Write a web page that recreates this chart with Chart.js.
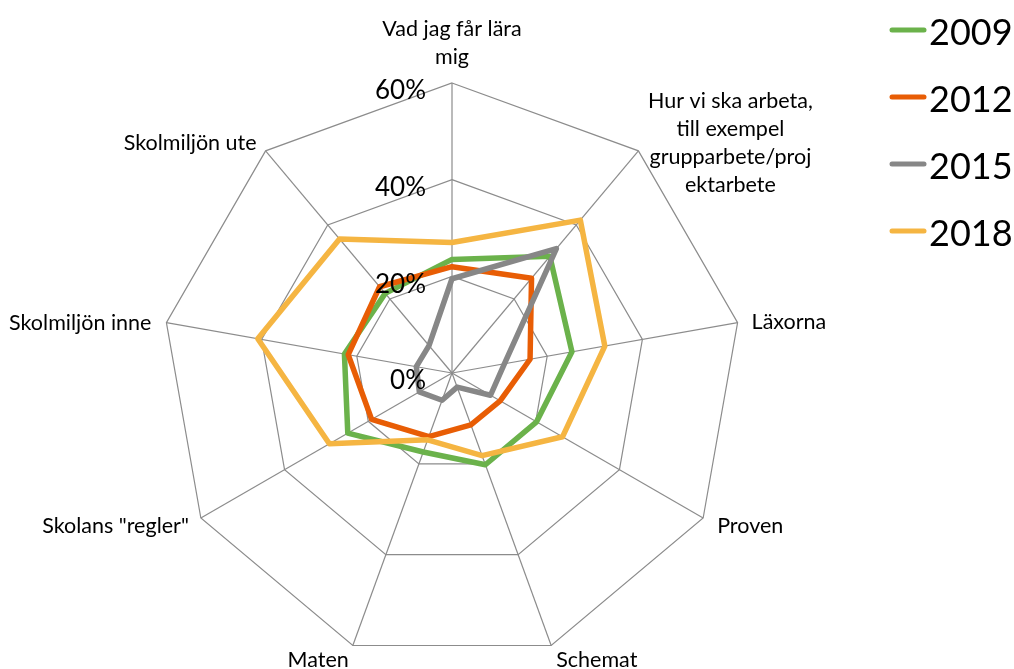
<!DOCTYPE html>
<html lang="sv">
<head>
<meta charset="utf-8">
<title>Trivsel i skolan</title>
<script src="https://cdn.jsdelivr.net/npm/chart.js@4.4.1/dist/chart.umd.min.js"></script>
<style>
    html, body { margin: 0; padding: 0; background: #ffffff; }
    #wrap { position: relative; width: 1014px; height: 669px; }
</style>
</head>
<body>
<div id="wrap"><canvas id="radarChart"></canvas></div>
<script>
// --------------------
// Data
// --------------------
const categories = [
    ["Vad jag får lära", "mig"],
    ["Hur vi ska arbeta,", "till exempel", "grupparbete/proj", "ektarbete"],
    "Läxorna",
    "Proven",
    "Schemat",
    "Maten",
    "Skolans \"regler\"",
    "Skolmiljön inne",
    "Skolmiljön ute"
];

const years = ["2009", "2012", "2015", "2018"];

const values2009 = [23.5, 31.5, 25.2, 20.2, 20.2, 17.4, 24.9, 22.6, 21.5];
const values2012 = [22.0, 25.6, 16.4, 11.5, 11.4, 14.0, 19.2, 21.8, 23.3];
const values2015 = [19.5, 33.6, 11.0, 9.2, 3.1, 6.0, 7.8, 7.5, 7.4];
const values2018 = [27.0, 41.3, 32.1, 26.4, 18.2, 14.7, 29.3, 40.8, 36.2];

const tickValues = [0, 20, 40, 60];
const tickLabels = ["0%", "20%", "40%", "60%"];

const seriesColors = ["#6bb24b", "#e85d05", "#878787", "#f5b542"];
const FONT = "Lato, 'Open Sans', sans-serif";

// --------------------
// Tick labels (left of the vertical axis)
// --------------------
const tickLabelPlugin = {
    id: "tickLabels",
    afterDatasetsDraw(chart) {
        const scale = chart.scales.r;
        const ctx = chart.ctx;
        ctx.save();
        ctx.font = "26px " + FONT;
        ctx.fillStyle = "#000000";
        ctx.textAlign = "right";
        ctx.textBaseline = "middle";
        tickValues.forEach((v, i) => {
            const p = scale.getPointPositionForValue(0, v);
            ctx.fillText(tickLabels[i], p.x - 26, p.y + 8);
        });
        ctx.restore();
    }
};

// --------------------
// Category labels round the web
// --------------------
const pointLabelPlugin = {
    id: "pointLabelsCustom",
    afterDraw(chart) {
        const scale = chart.scales.r;
        const ctx = chart.ctx;
        const lineH = 28;
        // align, dx, dy (dy = baseline of first line from vertex)
        const place = [
            ["center", 0, 0],
            ["center", 92, -43],
            ["left", 14, 6],
            ["left", 14, 15],
            ["left", 5, 21],
            ["right", -4, 21],
            ["right", -12, 15],
            ["right", -15, 7],
            ["right", -9, -1]
        ];
        ctx.save();
        ctx.font = "21.5px " + FONT;
        ctx.fillStyle = "#000000";
        ctx.textBaseline = "alphabetic";
        categories.forEach((label, i) => {
            const p = scale.getPointPosition(i, scale.drawingArea);
            const lines = Array.isArray(label) ? label : [label];
            const [align, dx, dy] = place[i];
            ctx.textAlign = align;
            let y = p.y + dy;
            if (i === 0) y = p.y - 19 - (lines.length - 1) * lineH;
            lines.forEach((line, k) => {
                ctx.fillText(line, p.x + dx, y + k * lineH);
            });
        });
        ctx.restore();
    }
};

// --------------------
// Legend (top right)
// --------------------
const legendPlugin = {
    id: "sideLegend",
    afterDraw(chart) {
        const ctx = chart.ctx;
        const x0 = chart.width - 122;
        ctx.save();
        chart.data.datasets.forEach((ds, i) => {
            const y = 30 + i * 67;
            ctx.strokeStyle = ds.borderColor;
            ctx.lineWidth = 5;
            ctx.lineCap = "round";
            ctx.beginPath();
            ctx.moveTo(x0, y);
            ctx.lineTo(x0 + 32, y);
            ctx.stroke();
            ctx.font = "36px " + FONT;
            ctx.fillStyle = "#000000";
            ctx.textAlign = "left";
            ctx.textBaseline = "alphabetic";
            ctx.fillText(ds.label, x0 + 37, y + 15);
        });
        ctx.restore();
    }
};

// --------------------
// Chart
// --------------------
const allValues = [values2009, values2012, values2015, values2018];

const datasets = years.map((year, i) => ({
    label: year,
    data: allValues[i],
    borderColor: seriesColors[i],
    backgroundColor: seriesColors[i],
    borderWidth: 5.5,
    borderJoinStyle: "round",
    pointRadius: 0,
    pointHoverRadius: 0,
    fill: false,
    tension: 0,
    order: years.length - i
}));

const ctx = document.getElementById("radarChart").getContext("2d");

new Chart(ctx, {
    type: "radar",
    data: {
        labels: categories,
        datasets
    },
    options: {
        responsive: true,
        maintainAspectRatio: false,
        animation: false,
        layout: {
            padding: { left: 162, right: 272, top: 83, bottom: 6 }
        },
        plugins: {
            legend: { display: false },
            tooltip: { enabled: false }
        },
        scales: {
            r: {
                min: 0,
                max: 60,
                ticks: { stepSize: 20, display: false },
                grid: { color: "#8c8c8c", lineWidth: 1.2 },
                angleLines: { color: "#8c8c8c", lineWidth: 1.2 },
                pointLabels: { display: false }
            }
        }
    },
    plugins: [tickLabelPlugin, pointLabelPlugin, legendPlugin]
});
</script>
</body>
</html>
